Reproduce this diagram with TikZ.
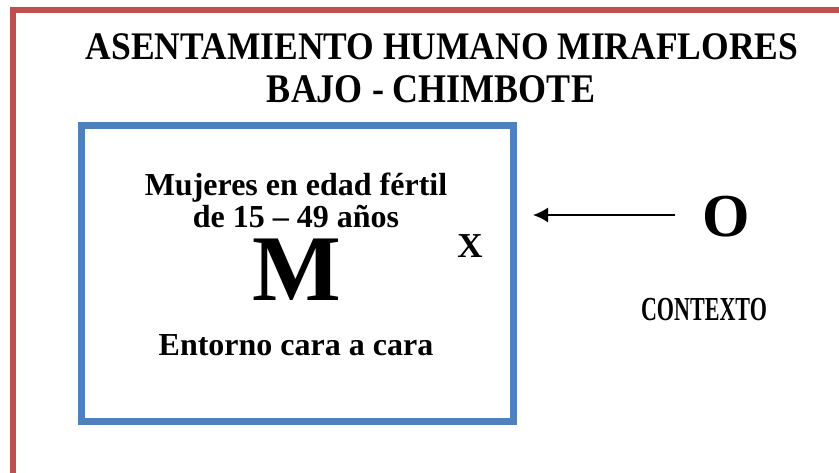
\documentclass[tikz,border=0pt]{standalone}
\usepackage{graphicx}
\usepackage{fontspec}
\setmainfont{Liberation Serif}
\usetikzlibrary{arrows.meta}
\definecolor{framered}{HTML}{C0504D}
\definecolor{boxblue}{HTML}{4F81BD}
\tikzset{
  txt/.style={anchor=base, inner sep=0pt, font=\bfseries},
  frame/.style={draw=framered, line width=6pt},
  mainbox/.style={draw=boxblue, line width=7pt},
  link/.style={draw=black, line width=1.8pt, -{Latex[length=15pt,width=15pt]}}
}
\begin{document}
\begin{tikzpicture}[x=1pt,y=-1pt]
\useasboundingbox (0,0) rectangle (839,472);
\clip (0,0) rectangle (839,472);
\draw[frame] (12.5,490) -- (12.5,10) -- (860,10);
\draw[mainbox] (81,125.5) rectangle (513.5,421);
\node[txt, font=\bfseries\fontsize{35.5}{40}\selectfont] (t1) at (442,59) {\scalebox{1}[1.1]{ASENTAMIENTO HUMANO MIRAFLORES}};
\node[txt, font=\bfseries\fontsize{36}{40}\selectfont] (t2) at (431,102) {\scalebox{1}[1.13]{BAJO - CHIMBOTE}};
\node[txt, font=\bfseries\fontsize{32}{36}\selectfont] (m1) at (296,195) {Mujeres en edad fértil};
\node[txt, text depth=0pt, font=\bfseries\fontsize{32}{36}\selectfont] (m2) at (296,227) {de 15 – 49 años};
\node[txt, text height=62pt, text depth=0pt, font=\bfseries\fontsize{94}{100}\selectfont] (M) at (297,300) {M};
\node[txt, font=\bfseries\fontsize{35}{40}\selectfont] (X) at (470,257) {X};
\node[txt, font=\bfseries\fontsize{32}{36}\selectfont] (ent) at (296,355) {Entorno cara a cara};
\node[txt, font=\bfseries\fontsize{61}{66}\selectfont] (O) at (726,236) {O};
\node[txt, font=\bfseries\fontsize{24}{28}\selectfont] (ctx) at (704,320) {\scalebox{0.92}[1.4]{CONTEXTO}};
\coordinate (arrS) at (675,215);
\coordinate (arrE) at (533,215);
\draw[link] (arrS) -- (arrE);
\end{tikzpicture}
\end{document}
